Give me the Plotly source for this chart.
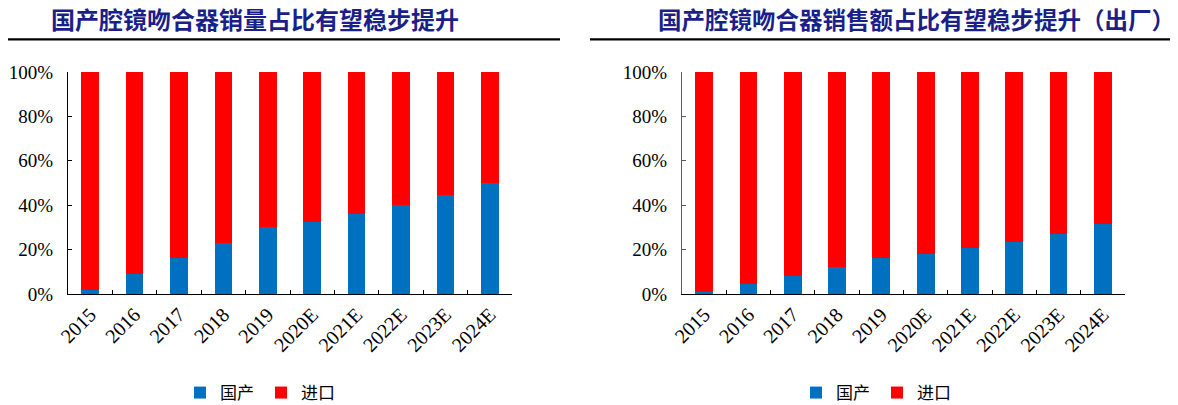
import plotly.graph_objects as go

years = ["2015", "2016", "2017", "2018", "2019", "2020E", "2021E", "2022E", "2023E", "2024E"]
vol_domestic = [2, 9, 16, 23, 30, 32.5, 36, 40, 44.4, 50]
vol_import = [98, 91, 84, 77, 70, 67.5, 64, 60, 55.6, 50]
amt_domestic = [1, 4.5, 8.1, 12, 16.3, 18.2, 20.6, 23.6, 27.1, 31.6]
amt_import = [99, 95.5, 91.9, 88, 83.7, 81.8, 79.4, 76.4, 72.9, 68.4]
title_left = "国产腔镜吻合器销量占比有望稳步提升"
title_right = "国产腔镜吻合器销售额占比有望稳步提升（出厂）"
series_names = ["国产", "进口"]
y_ticks = [0, 20, 40, 60, 80, 100]
y_labels = ["0%", "20%", "40%", "60%", "80%", "100%"]

BLUE = "#0070C0"
RED = "#FF0000"
NAVY = "#1B1F8A"
SERIF = "Liberation Serif, Times New Roman, serif"
CJK = "Noto Sans CJK SC"
# page has an 8px body margin, so the figure is drawn 8px in from the top-left
W, H = 1170, 397
OFF = 8


def px(x):
    return (x - OFF) / W


def py(y):
    return (H - (y - OFF)) / H


fig = go.Figure()
for i, (dom, imp) in enumerate([(vol_domestic, vol_import), (amt_domestic, amt_import)]):
    xa = "x" if i == 0 else "x2"
    ya = "y" if i == 0 else "y2"
    lg = "legend" if i == 0 else "legend2"
    fig.add_trace(go.Bar(x=years, y=dom, name=series_names[0], marker_color=BLUE,
                         marker_line_width=0, xaxis=xa, yaxis=ya, legend=lg))
    fig.add_trace(go.Bar(x=years, y=imp, name=series_names[1], marker_color=RED,
                         marker_line_width=0, xaxis=xa, yaxis=ya, legend=lg))

ydom = [py(294), py(72)]
axis_common = dict(showline=True, linecolor="black", linewidth=1, showgrid=False,
                   zeroline=False, ticks="inside", ticklen=4, tickcolor="black",
                   automargin=False,
                   tickfont=dict(family=SERIF, size=20, color="black"))
xcommon = dict(axis_common, type="category", tickson="boundaries", tickangle=-45)
ycommon = dict(axis_common, range=[0, 100], tickvals=y_ticks, ticktext=y_labels,
               ticklabelstandoff=10, tickfont=dict(family=SERIF, size=19, color="black"))

leg_common = dict(orientation="h", y=py(393), xanchor="center", yanchor="middle",
                  font=dict(family=CJK, size=17, color="black"), traceorder="normal",
                  itemwidth=30, entrywidth=36, tracegroupgap=0,
                  bgcolor="rgba(0,0,0,0)")

fig.update_layout(
    width=W, height=H, margin=dict(l=0, r=0, t=0, b=0, autoexpand=False),
    paper_bgcolor="white", plot_bgcolor="white",
    barmode="stack", bargap=0.6,
    xaxis=dict(xcommon, domain=[px(68), px(512)], anchor="y"),
    yaxis=dict(ycommon, domain=ydom, anchor="x"),
    xaxis2=dict(xcommon, domain=[px(682), px(1125)], anchor="y2"),
    yaxis2=dict(ycommon, domain=ydom, anchor="x2", linecolor="#595959",
                tickcolor="#595959"),
    legend=dict(leg_common, x=px(261)),
    legend2=dict(leg_common, x=px(877)),
    annotations=[
        dict(text="<b>%s</b>" % title_left, x=px(255), y=py(19), xref="paper",
             yref="paper", showarrow=False, xanchor="center", yanchor="middle",
             font=dict(family=CJK, size=24, color=NAVY)),
        dict(text="<b>%s</b>" % title_right, x=px(916.5), y=py(19), xref="paper",
             yref="paper", showarrow=False, xanchor="center", yanchor="middle",
             font=dict(family=CJK, size=23.5, color=NAVY)),
    ],
    shapes=[
        dict(type="line", xref="paper", yref="paper", x0=0, x1=px(560),
             y0=py(39.3), y1=py(39.3), line=dict(color="black", width=2.2)),
        dict(type="line", xref="paper", yref="paper", x0=px(590), x1=px(1170),
             y0=py(39.3), y1=py(39.3), line=dict(color="black", width=2.2)),
    ],
    showlegend=True,
)

fig.write_html("out.html")
